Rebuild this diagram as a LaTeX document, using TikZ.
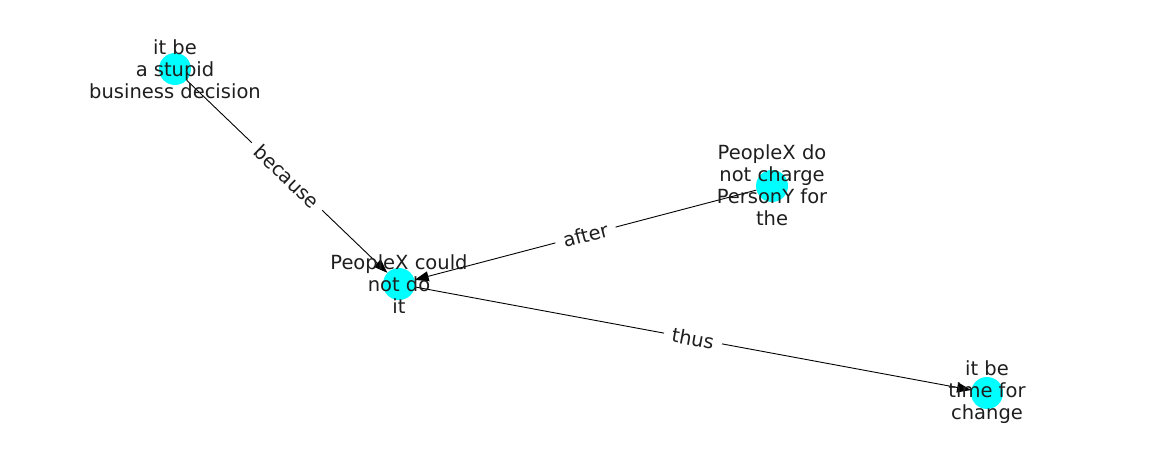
\documentclass[tikz,border=0pt]{standalone}
\usepackage{fontspec}
\setmainfont{DejaVu Sans}
\usetikzlibrary{arrows.meta}
\definecolor{nodecyan}{RGB}{0,255,255}
\definecolor{txtgray}{RGB}{30,30,30}
\begin{document}
\begin{tikzpicture}[x=1pt,y=-1pt,
  dot/.style={circle,fill=nodecyan,draw=none,minimum size=32pt,inner sep=0pt},
  txt/.style={align=center,text=txtgray,font=\fontsize{19.5}{22}\selectfont,inner sep=0pt},
  edge/.style={draw=black,line width=0.9pt,-{Triangle[length=14pt,width=10pt]}},
  elab/.style={midway,sloped,fill=white,inner xsep=8pt,inner ysep=4pt,text=txtgray,font=\fontsize{19.5}{22}\selectfont}]
\useasboundingbox (0,0) rectangle (1162,462);
\node[dot] (a) at (175,69) {};
\node[dot] (b) at (399,284) {};
\node[dot] (c) at (772,186) {};
\node[dot] (d) at (987,393) {};
\draw[edge] (a) -- (b) node[elab] {because};
\draw[edge] (c) -- (b) node[elab] {after};
\draw[edge] (b) -- (d) node[elab] {thus};
\node[txt] (ta) at (175,69) {it be\\a stupid\\business decision};
\node[txt] (tb) at (399,284) {PeopleX could\\not do\\it};
\node[txt] (tc) at (772,185) {PeopleX do\\not charge\\PersonY for\\the};
\node[txt] (td) at (987,392) {it be\\time for\\change};
\end{tikzpicture}
\end{document}
